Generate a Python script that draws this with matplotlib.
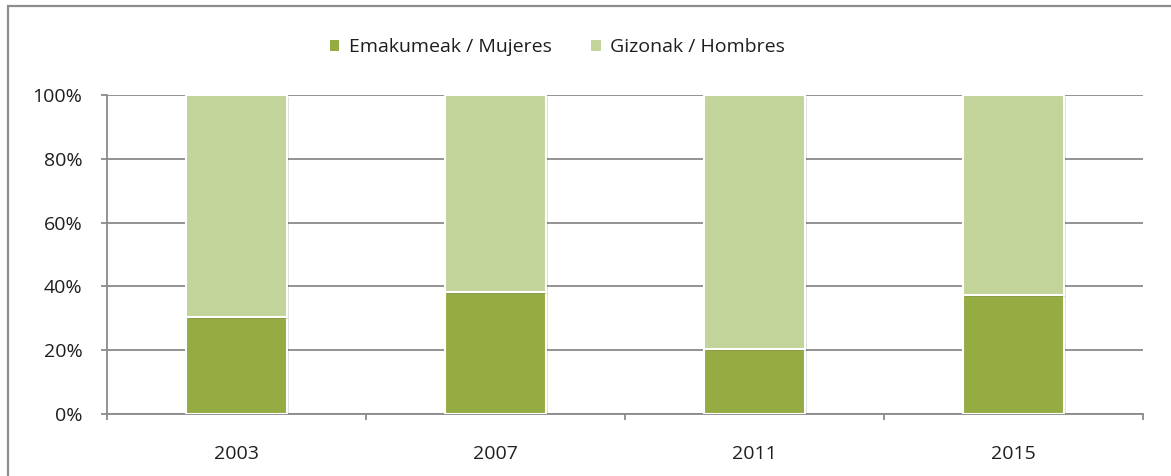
import matplotlib.pyplot as plt
import matplotlib.patheffects as pe
from matplotlib.patches import Rectangle, Patch
from matplotlib.ticker import PercentFormatter
import numpy as np

years = ['2003', '2007', '2011', '2015']
mujeres = [30.5, 38.3, 20.4, 37.2]
hombres = [100 - m for m in mujeres]

dark_green = '#94AC42'
light_green = '#C2D49A'
grid_gray = '#8A8A8A'
text_color = '#1E1E1E'

plt.rcParams['font.family'] = ['Open Sans', 'DejaVu Sans']

fig = plt.figure(figsize=(11.71, 4.76), dpi=100)
ax = fig.add_axes([0.0911, 0.1303, 0.8847, 0.6701])

# frame round the whole chart
fig.patches.append(Rectangle((8 / 1171, -0.1), 1.2, 1 - 6 / 476 + 0.1,
                             transform=fig.transFigure, fill=False,
                             edgecolor='#8C8C8C', linewidth=1.6))

x = np.arange(len(years))
shadow = [pe.SimplePatchShadow(offset=(1.5, -1.5), shadow_rgbFace='#000000', alpha=0.12), pe.Normal()]
b1 = ax.bar(x, mujeres, width=0.39, color=dark_green, edgecolor='white', linewidth=1.5, zorder=3)
b2 = ax.bar(x, hombres, width=0.39, bottom=mujeres, color=light_green, edgecolor='white',
            linewidth=1.5, zorder=3)
for bar in list(b1) + list(b2):
    bar.set_path_effects(shadow)

ax.set_xlim(-0.5, len(years) - 0.5)
ax.set_ylim(0, 100)
ax.set_yticks(range(0, 101, 20))
ax.yaxis.set_major_formatter(PercentFormatter(decimals=0))
ax.grid(axis='y', color=grid_gray, linewidth=1.3, zorder=0)

# category labels in the middle, ticks on the boundaries
ax.set_xticks(np.arange(-0.5, len(years)), minor=False)
ax.set_xticklabels([])
ax.set_xticks(x, minor=True)
ax.set_xticklabels(years, minor=True)
ax.tick_params(axis='x', which='major', length=4.5, width=1.3, color=grid_gray, direction='out')
ax.tick_params(axis='x', which='minor', length=0, pad=22, labelsize=14, labelcolor=text_color)
ax.tick_params(axis='y', length=4.5, width=1.3, color=grid_gray, pad=13, labelsize=14,
               labelcolor=text_color)

for side in ['top', 'right']:
    ax.spines[side].set_visible(False)
for side in ['left', 'bottom']:
    ax.spines[side].set_color(grid_gray)
    ax.spines[side].set_linewidth(1.3)

handles = [Patch(facecolor=dark_green, edgecolor='none', label='Emakumeak / Mujeres'),
           Patch(facecolor=light_green, edgecolor='none', label='Gizonak / Hombres')]
leg = fig.legend(handles=handles, loc='center', bbox_to_anchor=(0.476, 1 - 47 / 476), ncol=2,
                 frameon=False, fontsize=14, handlelength=0.5, handleheight=0.5,
                 handletextpad=0.5, columnspacing=2.0)
for t in leg.get_texts():
    t.set_color(text_color)

fig.savefig('out.png', dpi=100)
